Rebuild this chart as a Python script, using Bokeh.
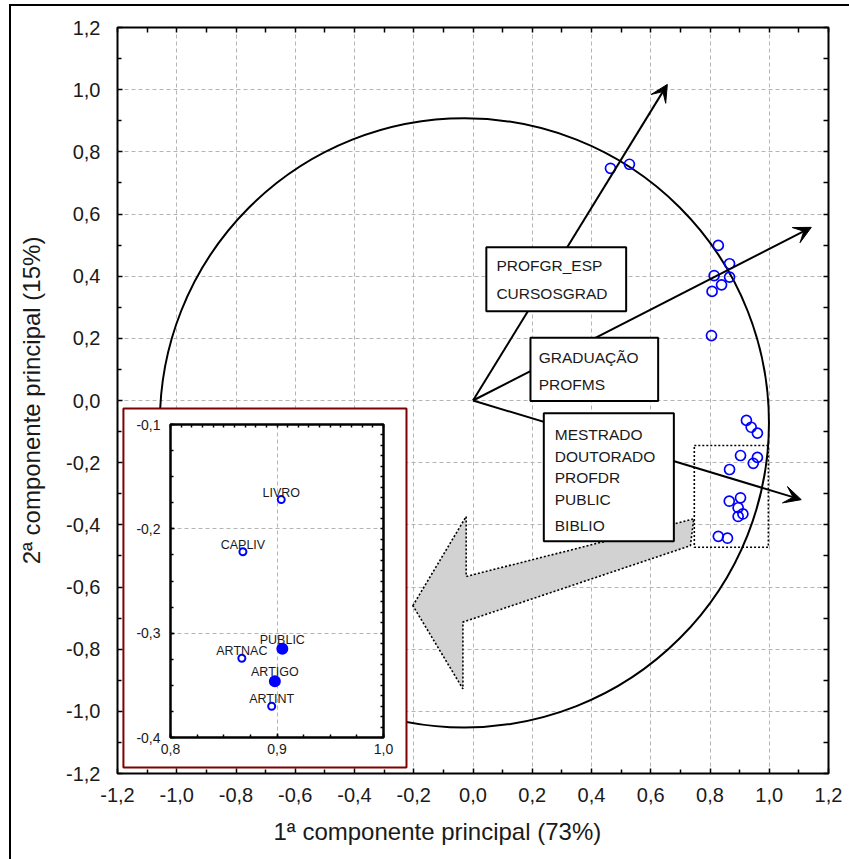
import numpy as np
from bokeh.plotting import figure
from bokeh.models import (Range1d, LinearAxis, FixedTicker, Arrow, VeeHead,
                          BoxAnnotation, ColumnDataSource, Title)
from bokeh.layouts import column
from bokeh.embed import file_html
from bokeh.resources import INLINE
from bokeh.core.properties import value

FONT = "Liberation Sans"
TXT = "#1a1a1a"

# ---------------- main chart data (loadings on PC1 / PC2) ----------------
load_x = [0.464, 0.528, 0.828, 0.866, 0.814, 0.866, 0.839, 0.807, 0.805,
          0.923, 0.939, 0.960, 0.903, 0.960, 0.946, 0.866, 0.903, 0.865,
          0.895, 0.911, 0.895, 0.828, 0.859]
load_y = [0.747, 0.760, 0.499, 0.440, 0.402, 0.397, 0.372, 0.351, 0.209,
          -0.064, -0.086, -0.105, -0.177, -0.183, -0.202, -0.222, -0.313, -0.324,
          -0.345, -0.365, -0.373, -0.437, -0.443]

axis_ticks = [-1.2, -1.0, -0.8, -0.6, -0.4, -0.2, 0.0, 0.2, 0.4, 0.6, 0.8, 1.0, 1.2]
axis_tick_labels = ["-1,2", "-1,0", "-0,8", "-0,6", "-0,4", "-0,2", "0,0",
                    "0,2", "0,4", "0,6", "0,8", "1,0", "1,2"]
axis_minor_ticks = [-1.1, -0.9, -0.7, -0.5, -0.3, -0.1, 0.1, 0.3, 0.5, 0.7, 0.9, 1.1]

x_title = "1ª  componente principal (73%)"
y_title = "2ª componente principal (15%)"

# arrow end points (group directions), all start at the origin
arrow_end_x = [0.656, 1.142, 1.108]
arrow_end_y = [1.017, 0.557, -0.319]

# call-out boxes: [left, right, top, bottom] and their texts
box_edges = [[0.045, 0.517, 0.493, 0.287],
             [0.194, 0.625, 0.202, -0.002],
             [0.239, 0.678, -0.041, -0.453]]
box_texts = ["PROFGR_ESP", "CURSOSGRAD", "GRADUAÇÃO", "PROFMS",
             "MESTRADO", "DOUTORADO", "PROFDR", "PUBLIC", "BIBLIO"]
box_text_x = [0.079, 0.079, 0.222, 0.222, 0.276, 0.276, 0.276, 0.276, 0.276]
box_text_y = [0.434, 0.343, 0.137, 0.052, -0.108, -0.180, -0.249, -0.320, -0.403]

# correlation circle (centre, width, height)
circle_c = (-0.029, -0.072)
circle_w = 2.056
circle_h = 1.960

# zoom rectangle and grey pointer
zoom_rect = [0.747, 0.997, -0.145, -0.472]
pointer_x = [-0.203, -0.023, -0.023, 0.745, 0.734, -0.034, -0.034]
pointer_y = [-0.660, -0.373, -0.566, -0.381, -0.467, -0.713, -0.928]

# inset frame
inset_frame = [-1.180, -0.2245, -0.026, -1.181]

# ---------------- inset data ----------------
inset_names = ["LIVRO", "CAPLIV", "PUBLIC", "ARTNAC", "ARTIGO", "ARTINT"]
inset_x = [0.904, 0.868, 0.905, 0.867, 0.898, 0.895]
inset_y = [-0.172, -0.222, -0.315, -0.324, -0.346, -0.370]
inset_filled = [False, False, True, False, True, False]

inset_x_ticks = [0.8, 0.9, 1.0]
inset_x_tick_labels = ["0,8", "0,9", "1,0"]
inset_y_ticks = [-0.4, -0.3, -0.2, -0.1]
inset_y_tick_labels = ["-0,4", "-0,3", "-0,2", "-0,1"]

# ======================= main figure =======================
p = figure(width=838, height=853,
           x_range=Range1d(-1.2, 1.2), y_range=Range1d(-1.2, 1.2),
           output_backend="svg", toolbar_location=None,
           min_border_left=106, min_border_right=21,
           min_border_top=21, min_border_bottom=86)
p.background_fill_color = "white"
p.border_fill_color = "white"
p.outline_line_color = "black"
p.outline_line_width = 2

ticker = FixedTicker(ticks=axis_ticks, minor_ticks=axis_minor_ticks)
overrides = dict(zip(axis_ticks, axis_tick_labels))
for ax in (p.below[0], p.left[0]):
    ax.ticker = ticker
    ax.major_label_overrides = overrides
    ax.axis_line_color = None
    ax.major_tick_in = 5
    ax.major_tick_out = 0
    ax.minor_tick_in = 4
    ax.minor_tick_out = 0
    ax.major_tick_line_width = 1.5
    ax.minor_tick_line_width = 1.5
    ax.major_label_text_font = FONT
    ax.major_label_text_font_size = "20px"
    ax.major_label_text_color = TXT
    ax.axis_label_text_font = FONT
    ax.axis_label_text_font_size = "24px"
    ax.axis_label_text_font_style = "normal"
    ax.axis_label_text_color = TXT
p.left[0].axis_label = y_title
p.below[0].major_label_standoff = 14
p.left[0].major_label_standoff = 17
p.left[0].axis_label_standoff = 18

# x-axis title, placed below the axis, starting 156 px right of the frame's left edge
p.add_layout(Title(text=x_title, align="left", offset=156, standoff=22,
                   text_font=FONT, text_font_size="24px",
                   text_font_style="normal", text_color=TXT), "below")

# mirror ticks (tick marks only, no labels) on the top and right edges
tick_only = FixedTicker(ticks=[], minor_ticks=sorted(axis_ticks + axis_minor_ticks))
for side in ("above", "right"):
    ax = LinearAxis(ticker=tick_only, axis_line_color=None,
                    minor_tick_in=5, minor_tick_out=0, minor_tick_line_width=1.5)
    p.add_layout(ax, side)

p.grid.grid_line_color = "#b4b4b4"
p.grid.grid_line_dash = "4 3"
p.grid.grid_line_width = 1

# correlation circle
p.ellipse(x=[circle_c[0]], y=[circle_c[1]], width=[circle_w], height=[circle_h],
          fill_color=None, line_color="black", line_width=2)

# inset frame (white background, dark red border)
p.quad(left=[inset_frame[0]], right=[inset_frame[1]],
       top=[inset_frame[2]], bottom=[inset_frame[3]],
       fill_color="white", line_color="#7f0000", line_width=2)

# grey pointer
p.patch(pointer_x, pointer_y, fill_color="#d2d2d2", line_color="black",
        line_width=1.6, line_dash="2 2")

# zoom rectangle
p.quad(left=[zoom_rect[0]], right=[zoom_rect[1]], top=[zoom_rect[2]],
       bottom=[zoom_rect[3]], fill_color=None, line_color="black",
       line_width=1.6, line_dash="2 2")

# loadings
p.scatter(load_x, load_y, marker="circle", size=10, fill_color=None,
          line_color="#0000ff", line_width=1.7)

# arrows
asrc = ColumnDataSource(dict(x0=[0.0] * len(arrow_end_x), y0=[0.0] * len(arrow_end_x),
                             x1=arrow_end_x, y1=arrow_end_y))
p.add_layout(Arrow(source=asrc, x_start="x0", y_start="y0", x_end="x1", y_end="y1",
                   line_color="black", line_width=2,
                   end=VeeHead(size=17, fill_color="black", line_color="black",
                               line_width=1)))

# call-out boxes
for l, r, t, b in box_edges:
    p.add_layout(BoxAnnotation(left=l, right=r, top=t, bottom=b,
                               fill_color="white", fill_alpha=1.0,
                               line_color="black", line_width=2, line_alpha=1.0))
tr = p.text(x=box_text_x, y=box_text_y, text=box_texts,
            text_font=value(FONT), text_font_size="15.5px", text_color=TXT,
            text_align="left", text_baseline="middle")
tr.level = "overlay"

# ======================= inset figure =======================
# its left/right borders follow the main figure's (106 / 21 px) inside the column
ins = figure(width=340, height=355,
             x_range=Range1d(0.8, 1.0), y_range=Range1d(-0.4, -0.1),
             output_backend="svg", toolbar_location=None,
             min_border_left=106, min_border_right=21,
             min_border_top=14, min_border_bottom=28)
ins.outline_line_color = "black"
ins.outline_line_width = 2.5
ins.background_fill_color = "white"
ins.border_fill_color = None
ins.border_fill_alpha = 0

ix_ticker = FixedTicker(ticks=inset_x_ticks,
                        minor_ticks=np.round(np.arange(0.8, 1.0001, 0.025), 3).tolist())
iy_ticker = FixedTicker(ticks=inset_y_ticks,
                        minor_ticks=np.round(np.arange(-0.4, -0.0999, 0.025), 3).tolist())
for ax, tk, lab in ((ins.below[0], ix_ticker, dict(zip(inset_x_ticks, inset_x_tick_labels))),
                    (ins.left[0], iy_ticker, dict(zip(inset_y_ticks, inset_y_tick_labels)))):
    ax.ticker = tk
    ax.major_label_overrides = lab
    ax.axis_line_color = None
    ax.major_tick_in = 4
    ax.major_tick_out = 0
    ax.minor_tick_in = 3
    ax.minor_tick_out = 0
    ax.major_tick_line_width = 1.5
    ax.minor_tick_line_width = 1.5
    ax.major_label_text_font = FONT
    ax.major_label_text_font_size = "14px"
    ax.major_label_text_color = TXT
ins.below[0].major_label_standoff = 6
ins.left[0].major_label_standoff = 10

ins.add_layout(LinearAxis(ticker=FixedTicker(ticks=[], minor_ticks=np.round(np.arange(0.8, 1.0001, 0.01), 3).tolist()),
                          axis_line_color=None, minor_tick_in=3, minor_tick_out=0,
                          minor_tick_line_width=1.5), "above")
ins.add_layout(LinearAxis(ticker=FixedTicker(ticks=[], minor_ticks=np.round(np.arange(-0.4, -0.0999, 0.01), 3).tolist()),
                          axis_line_color=None, minor_tick_in=3, minor_tick_out=0,
                          minor_tick_line_width=1.5), "right")

ins.grid.grid_line_color = "#b4b4b4"
ins.grid.grid_line_dash = "4 3"

isrc = ColumnDataSource(dict(
    x=inset_x, y=inset_y, name=inset_names,
    size=[10 if f else 7 for f in inset_filled],
    fill=["#0000ff" if f else "white" for f in inset_filled],
    yoff=[-9 if f else -7 for f in inset_filled]))
ins.scatter("x", "y", source=isrc, marker="circle", size="size",
            fill_color="fill", line_color="#0000ff", line_width=2)
ins.text(x="x", y="y", text="name", source=isrc, y_offset="yoff",
         text_font=value(FONT), text_font_size="12.5px", text_color=TXT,
         text_align="center", text_baseline="alphabetic")

# place the inset over the main chart
ins.margin = (-449, 0, 94, 53)

layout = column(p, ins, styles={"border-left": "2px solid black",
                                "border-top": "2px solid black",
                                "margin-left": "9px", "margin-top": "4px"})

open("out.html", "w").write(file_html(layout, INLINE))
